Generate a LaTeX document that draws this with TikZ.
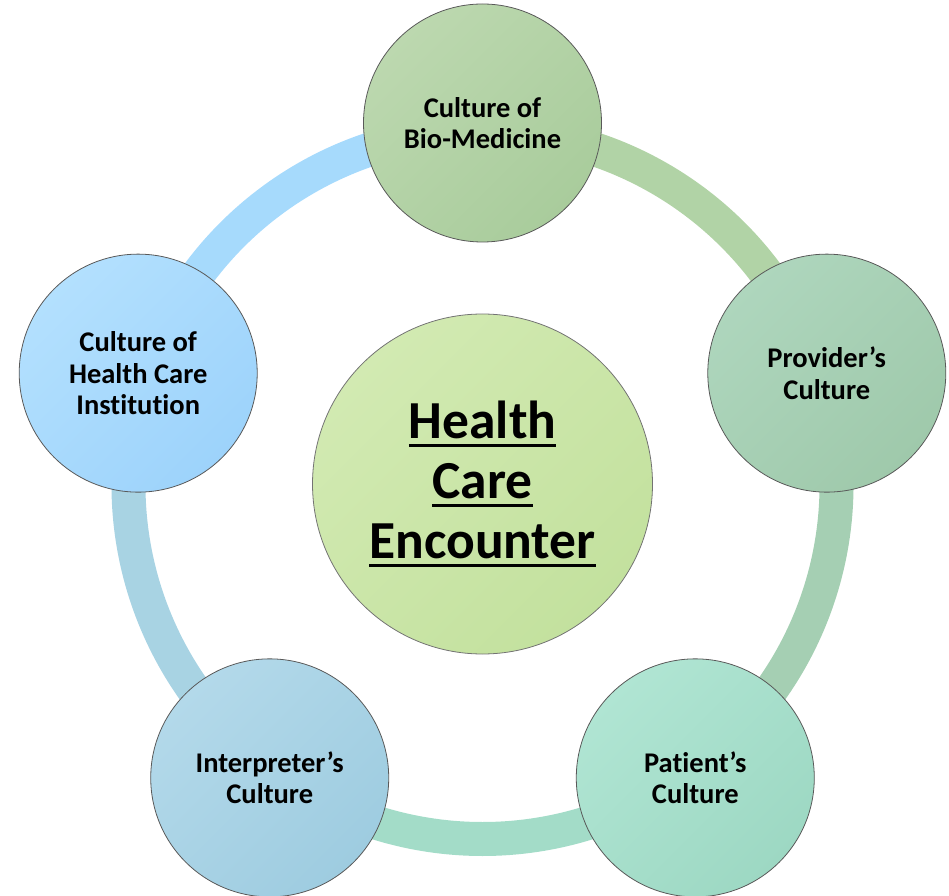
\documentclass[tikz,border=0pt]{standalone}
\usepackage{fontspec}
\setmainfont{Carlito}[Ligatures=NoCommon]
\usetikzlibrary{calc}
% thick underline set under a word
\newcommand\hubline[1]{\leavevmode\setbox0=\hbox{#1}%
  \rlap{\vrule width\wd0 height -5.2pt depth 8.2pt}\box0}
\begin{document}
\begin{tikzpicture}[x=1pt,y=1pt,
  culture/.style={circle, draw=black!65, line width=0.8pt, minimum size=238pt,
    inner sep=0pt, align=center, font=\bfseries\fontsize{28.5}{31.5}\selectfont},
  hub/.style={circle, draw=black!55, line width=0.8pt, minimum size=340pt,
    inner sep=0pt, align=center, font=\bfseries\fontsize{53.5}{60}\selectfont},
  band/.style={line width=34pt}]
  \definecolor{bioA}{HTML}{BCD8AF}\definecolor{bioB}{HTML}{A9CC9C}
  \definecolor{provA}{HTML}{AED6BD}\definecolor{provB}{HTML}{9FC9AB}
  \definecolor{patA}{HTML}{B0E5D3}\definecolor{patB}{HTML}{9DD8C3}
  \definecolor{intA}{HTML}{B3D9EA}\definecolor{intB}{HTML}{9ECCE0}
  \definecolor{instA}{HTML}{B3E0FE}\definecolor{instB}{HTML}{9DD3FB}
  \definecolor{hubA}{HTML}{D2EAB2}\definecolor{hubB}{HTML}{C3E19E}
  \definecolor{ringBI}{HTML}{A6DAFC}
  \definecolor{ringBP}{HTML}{B1D3A6}
  \definecolor{ringPP}{HTML}{A5CFB3}
  \definecolor{ringPI}{HTML}{A3DCC8}
  \definecolor{ringII}{HTML}{A8D3E3}

  \useasboundingbox (0,0) rectangle (949,895);
  \coordinate (o) at (482.5,410);

  % ring segments joining the five cultures
  \draw[band, ringBI] (o) ++(90:354) arc (90:162:354);
  \draw[band, ringBP] (o) ++(18:354) arc (18:90:354);
  \draw[band, ringPP] (o) ++(-54:354) arc (-54:18:354);
  \draw[band, ringPI] (o) ++(-126:354) arc (-126:-54:354);
  \draw[band, ringII] (o) ++(162:354) arc (162:234:354);

  % the five cultures
  \node[culture, top color=bioA, bottom color=bioB, shading angle=45]
    (bio) at ($(o)+(90:362)$) {Culture of\\Bio-Medicine};
  \node[culture, top color=provA, bottom color=provB, shading angle=45]
    (prov) at ($(o)+(18:362)$) {Provider’s\\Culture};
  \node[culture, top color=patA, bottom color=patB, shading angle=45]
    (pat) at ($(o)+(-54:362)$) {Patient’s\\Culture};
  \node[culture, top color=intA, bottom color=intB, shading angle=45]
    (int) at ($(o)+(-126:362)$) {Interpreter’s\\Culture};
  \node[culture, top color=instA, bottom color=instB, shading angle=45]
    (inst) at ($(o)+(162:362)$) {Culture of\\Health Care\\Institution};

  % central encounter
  \node[hub, top color=hubA, bottom color=hubB, shading angle=45]
    (hub) at (482.5,411) {\hubline{Health}\\\hubline{Care}\\\hubline{Encounter}};
\end{tikzpicture}
\end{document}
